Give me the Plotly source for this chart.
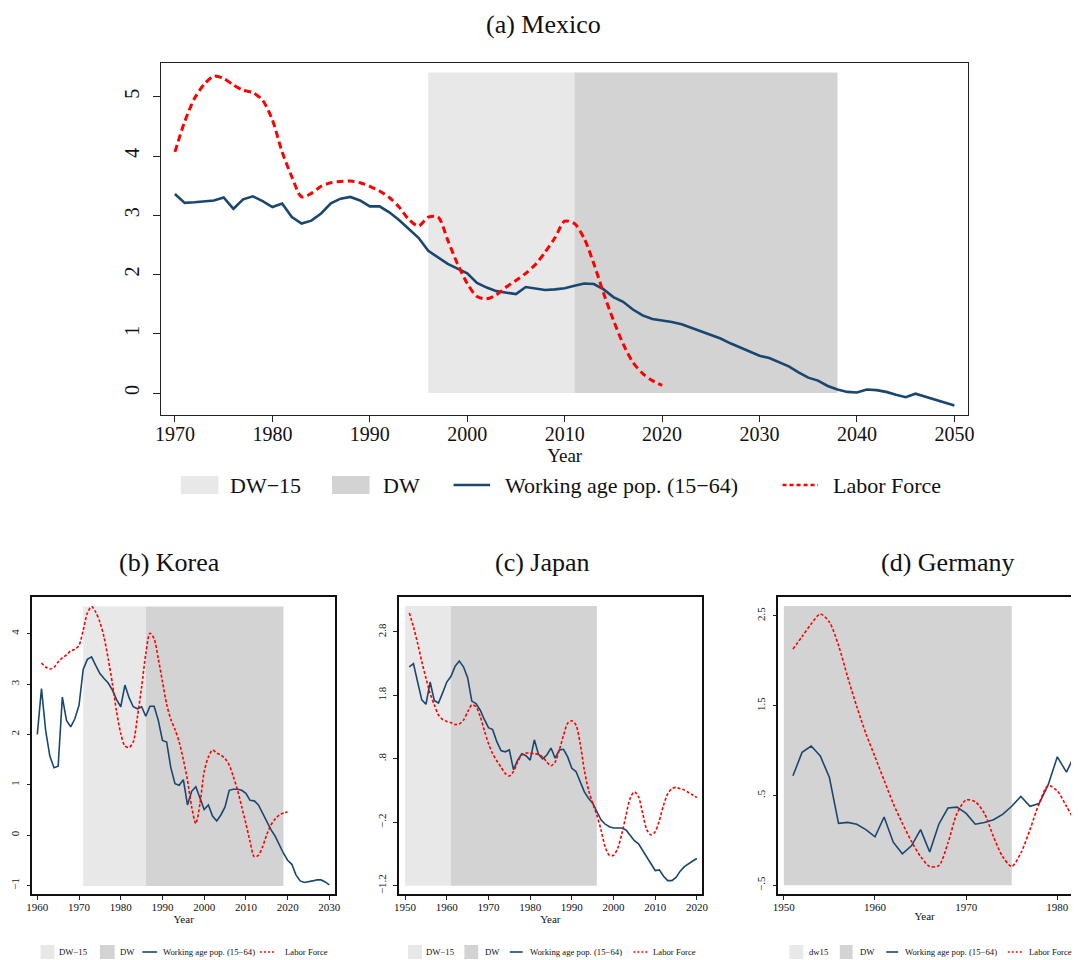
import plotly.graph_objects as go

W, H = 1078, 960

# ---------------- data ----------------
# (a) Mexico
mx_years = list(range(1970, 2051))
mx_wap = [3.36, 3.21, 3.22, 3.23, 3.25, 3.30, 3.11, 3.27, 3.32, 3.24,
          3.14, 3.20, 2.97, 2.86, 2.91, 3.03, 3.20, 3.28, 3.31, 3.25,
          3.15, 3.15, 3.05, 2.92, 2.77, 2.62, 2.40, 2.29, 2.18, 2.10,
          2.02, 1.86, 1.78, 1.72, 1.69, 1.67, 1.79, 1.76, 1.74, 1.75,
          1.77, 1.81, 1.85, 1.84, 1.75, 1.62, 1.54, 1.41, 1.31, 1.25,
          1.23, 1.20, 1.16, 1.10, 1.04, 0.97, 0.92, 0.84, 0.77, 0.69,
          0.63, 0.59, 0.52, 0.45, 0.35, 0.26, 0.21, 0.12, 0.06, 0.02,
          0.01, 0.06, 0.05, 0.02, -0.03, -0.07, -0.01, -0.06, -0.11, -0.15,
          -0.21]
mx_lf_years = list(range(1970, 2021))
mx_lf = [4.07, 4.58, 4.97, 5.21, 5.35, 5.31, 5.20, 5.11, 5.07, 4.94,
         4.61, 4.07, 3.65, 3.31, 3.37, 3.49, 3.55, 3.57, 3.58, 3.55,
         3.49, 3.41, 3.30, 3.14, 2.93, 2.82, 2.97, 2.97, 2.58, 2.18,
         1.85, 1.63, 1.59, 1.66, 1.79, 1.90, 2.02, 2.17, 2.38, 2.62,
         2.90, 2.86, 2.61, 2.18, 1.68, 1.23, 0.83, 0.52, 0.33, 0.21,
         0.13]
mx_dw15 = (1996, 2011)
mx_dw = (2011, 2038)
mx_band = (0.0, 5.41)

# (b) Korea
kr_years = list(range(1960, 2031))
kr_wap = [2.00, 2.91, 2.08, 1.57, 1.34, 1.37, 2.74, 2.28, 2.15, 2.31,
          2.58, 3.29, 3.49, 3.54, 3.37, 3.21, 3.11, 3.02, 2.88, 2.69,
          2.55, 2.98, 2.73, 2.55, 2.51, 2.55, 2.36, 2.56, 2.56, 2.28,
          1.88, 1.85, 1.34, 1.02, 0.99, 1.10, 0.60, 0.87, 0.96, 0.73,
          0.51, 0.60, 0.38, 0.28, 0.40, 0.56, 0.89, 0.91, 0.91, 0.89,
          0.83, 0.69, 0.68, 0.60, 0.43, 0.28, 0.11, -0.02, -0.20, -0.36,
          -0.50, -0.58, -0.79, -0.91, -0.94, -0.93, -0.91, -0.89, -0.89, -0.93,
          -0.99]
kr_lf_years = list(range(1961, 2021))
kr_lf = [3.42, 3.34, 3.30, 3.33, 3.44, 3.52, 3.58, 3.66, 3.69,
         3.77, 4.07, 4.41, 4.54, 4.43, 4.23, 3.93, 3.50, 3.01, 2.45,
         2.02, 1.77, 1.74, 1.85, 2.35, 2.94, 3.60, 4.01, 3.90, 3.50,
         3.05, 2.60, 2.30, 2.10, 1.85, 1.50, 1.09, 0.56, 0.23, 0.63,
         1.26, 1.55, 1.69, 1.63, 1.59, 1.52, 1.39, 1.16, 0.89, 0.56,
         0.23, -0.13, -0.43, -0.40, -0.23, 0.01, 0.20, 0.32, 0.40, 0.44,
         0.46]
kr_dw15 = (1971, 1986)
kr_dw = (1986, 2019)
kr_band = (-1.01, 4.54)

# (c) Japan
jp_years = list(range(1951, 2021))
jp_wap = [2.25, 2.30, 2.01, 1.73, 1.66, 2.01, 1.72, 1.68, 1.84,
          2.01, 2.10, 2.26, 2.34, 2.25, 2.08, 1.71, 1.67, 1.57, 1.42,
          1.29, 1.26, 1.07, 0.93, 0.91, 0.94, 0.63, 0.78, 0.88, 0.85,
          0.78, 1.10, 0.87, 0.80, 0.86, 0.97, 0.81, 0.94, 0.95, 0.83,
          0.65, 0.60, 0.44, 0.28, 0.18, 0.10, -0.03, -0.16, -0.23, -0.27,
          -0.29, -0.29, -0.29, -0.32, -0.41, -0.49, -0.54, -0.64, -0.74, -0.85,
          -0.96, -0.95, -1.05, -1.12, -1.12, -1.07, -0.97, -0.90, -0.85, -0.81,
          -0.77]
jp_lf = [3.10, 2.88, 2.62, 2.33, 2.07, 1.83, 1.65, 1.49, 1.42,
         1.39, 1.37, 1.34, 1.35, 1.41, 1.54, 1.65, 1.62, 1.47, 1.25,
         1.04, 0.88, 0.77, 0.67, 0.57, 0.53, 0.60, 0.75, 0.86, 0.89,
         0.89, 0.88, 0.87, 0.83, 0.75, 0.69, 0.75, 0.94, 1.17, 1.36,
         1.40, 1.33, 1.04, 0.62, 0.31, 0.10, -0.09, -0.32, -0.59, -0.72,
         -0.72, -0.61, -0.38, -0.09, 0.18, 0.28, 0.20, -0.06, -0.32, -0.40,
         -0.35, -0.17, 0.07, 0.25, 0.33, 0.35, 0.33, 0.31, 0.27, 0.23,
         0.19]
jp_dw15 = (1950, 1961)
jp_dw = (1961, 1996)
jp_band = (-1.2, 3.21)
jp_ticks = [-1.2, -0.2, 0.8, 1.8, 2.8]
jp_ticktext = ["\u22121.2", "\u2212.2", ".8", "1.8", "2.8"]

# (d) Germany
de_years = list(range(1951, 1983))
de_wap = [0.72, 0.98, 1.05, 0.94, 0.70, 0.19, 0.20, 0.18, 0.12,
          0.04, 0.26, -0.02, -0.15, -0.06, 0.12, -0.13, 0.18, 0.36, 0.37,
          0.30, 0.18, 0.20, 0.23, 0.29, 0.38, 0.49, 0.38, 0.41, 0.62,
          0.93, 0.76, 0.97]
de_lf = [2.13, 2.27, 2.41, 2.52, 2.43, 2.17, 1.82, 1.49, 1.19,
         0.93, 0.67, 0.41, 0.19, -0.01, -0.18, -0.29, -0.28, -0.03, 0.30,
         0.45, 0.43, 0.30, 0.04, -0.18, -0.29, -0.14, 0.12, 0.41, 0.61,
         0.55, 0.38, 0.20]
de_dw = (1950, 1975)
de_band = (-0.5, 2.61)
de_ticks = [-0.5, 0.5, 1.5, 2.5]
de_ticktext = ["\u2212.5", ".5", "1.5", "2.5"]

# ---------------- styling ----------------
NAVY = "#1a476f"
RED = "#ff0000"
SHADE_LIGHT = "#e8e8e8"
SHADE_DARK = "#d3d3d3"
SERIF = "Liberation Serif, Times New Roman, serif"


def xp(px):
    return px / W


def yp(py):
    return 1 - py / H


fig = go.Figure()


def band(span, lo_hi, color, ax):
    x0, x1 = span
    lo, hi = lo_hi
    fig.add_trace(go.Scatter(
        x=[x0, x1, x1, x0, x0], y=[lo, lo, hi, hi, lo],
        fill="toself", fillcolor=color, mode="lines", line=dict(width=0),
        hoverinfo="skip", showlegend=False, xaxis="x" + ax, yaxis="y" + ax))


def series(x, y, ax, big):
    fig.add_trace(go.Scatter(
        x=x, y=y, mode="lines",
        line=dict(color=NAVY, width=2.6 if big else 1.6),
        showlegend=False, xaxis="x" + ax, yaxis="y" + ax))


def lf(x, y, ax, big):
    fig.add_trace(go.Scatter(
        x=x, y=y, mode="lines", line_shape="spline",
        line=dict(color=RED, width=3 if big else 1.6,
                  dash="7px,4px" if big else "3px,2px", smoothing=0.8),
        showlegend=False, xaxis="x" + ax, yaxis="y" + ax))


# Mexico (axis "")
band(mx_dw15, mx_band, SHADE_LIGHT, "")
band(mx_dw, mx_band, SHADE_DARK, "")
series(mx_years, mx_wap, "", True)
lf(mx_lf_years, mx_lf, "", True)

# Korea (axis 2)
band(kr_dw15, kr_band, SHADE_LIGHT, "2")
band(kr_dw, kr_band, SHADE_DARK, "2")
series(kr_years, kr_wap, "2", False)
lf(kr_lf_years, kr_lf, "2", False)

# Japan (axis 3)
band(jp_dw15, jp_band, SHADE_LIGHT, "3")
band(jp_dw, jp_band, SHADE_DARK, "3")
series(jp_years, jp_wap, "3", False)
lf(jp_years, jp_lf, "3", False)

# Germany (axis 4)
band(de_dw, de_band, SHADE_DARK, "4")
series(de_years, de_wap, "4", False)
lf(de_years, de_lf, "4", False)


def xaxis(dom, rng, dtick, big, mirror=True):
    return dict(
        domain=[xp(dom[0]), xp(dom[1])], range=rng, dtick=dtick, tick0=1950,
        showgrid=False, zeroline=False, showline=True, mirror=mirror,
        linecolor="#222" if big else "#111", linewidth=1.4 if big else 1.5,
        ticks="outside", ticklen=6 if big else 4, tickwidth=1.2, tickcolor="#222",
        ticklabelstandoff=-5 if big else -2,
        tickfont=dict(family=SERIF, size=20 if big else 11, color="#111"),
        title=dict(text="Year", standoff=0,
                   font=dict(family=SERIF, size=19 if big else 11, color="#111")),
        fixedrange=True)


def yaxis(dom, rng, big, tickvals=None, ticktext=None, dtick=1, mirror=True):
    d = dict(
        domain=[yp(dom[1]), yp(dom[0])], range=rng,
        showgrid=False, zeroline=False, showline=True, mirror=mirror,
        linecolor="#222" if big else "#111", linewidth=1.4 if big else 1.5,
        ticks="outside", ticklen=7 if big else 4, tickwidth=1.2, tickcolor="#222",
        tickangle=-90, ticklabelstandoff=6 if big else 3,
        tickfont=dict(family=SERIF, size=20 if big else 11, color="#111"),
        fixedrange=True)
    if tickvals is not None:
        d.update(tickmode="array", tickvals=tickvals, ticktext=ticktext)
    else:
        d.update(dtick=dtick, tick0=0)
    return d


fig.update_layout(
    width=W, height=H, margin=dict(l=0, r=0, t=0, b=0),
    paper_bgcolor="white", plot_bgcolor="white", showlegend=False,
    xaxis=xaxis((157, 974), [1968.58, 2051.42], 10, True),
    yaxis=yaxis((63, 415), [-0.37, 5.57], True),
    xaxis2=dict(xaxis((26.7, 333), [1958.82, 2031.35], 10, False), anchor="y2"),
    yaxis2=dict(yaxis((597, 894), [-1.17, 4.73], False), anchor="x2"),
    xaxis3=dict(xaxis((398, 704), [1948.58, 2021.11], 10, False), anchor="y3"),
    yaxis3=dict(yaxis((597, 894), [-1.33, 3.35], False, jp_ticks, jp_ticktext), anchor="x3"),
    xaxis4=dict(xaxis((781.7, 1078), [1949.39, 1981.5], 10, False), anchor="y4"),
    yaxis4=dict(yaxis((597, 894), [-0.597, 2.71], False, de_ticks, de_ticktext,
                      mirror=False), anchor="x4"),
)

# panel titles
for text, cx, cy in [("(a) Mexico", 544, 24), ("(b) Korea", 165, 562),
                     ("(c) Japan", 543, 562), ("(d) Germany", 953, 562)]:
    fig.add_annotation(text=text, x=xp(cx), y=yp(cy), xref="paper", yref="paper",
                       showarrow=False, xanchor="center", yanchor="middle",
                       font=dict(family=SERIF, size=26, color="#111"))


# legends
def legend(cy, boxes, size, labels, boxh, line_w, dash):
    (b1, b2, ln, rd) = boxes
    for (x0, x1), col in [(b1, SHADE_LIGHT), (b2, SHADE_DARK)]:
        fig.add_shape(type="rect", xref="paper", yref="paper",
                      x0=xp(x0), x1=xp(x1), y0=yp(cy - boxh / 2), y1=yp(cy + boxh / 2),
                      fillcolor=col, line=dict(width=0), layer="above")
    fig.add_shape(type="line", xref="paper", yref="paper",
                  x0=xp(ln[0]), x1=xp(ln[1]), y0=yp(cy), y1=yp(cy),
                  line=dict(color=NAVY, width=line_w))
    fig.add_shape(type="line", xref="paper", yref="paper",
                  x0=xp(rd[0]), x1=xp(rd[1]), y0=yp(cy), y1=yp(cy),
                  line=dict(color=RED, width=line_w, dash=dash))
    for text, lx in labels:
        fig.add_annotation(text=text, x=xp(lx), y=yp(cy), xref="paper", yref="paper",
                           showarrow=False, xanchor="left", yanchor="middle",
                           font=dict(family=SERIF, size=size, color="#111"))


legend(485, ((177, 215), (330, 368), (453, 490), (786, 822)), 22,
       [("DW\u221215", 225), ("DW", 380), ("Working age pop. (15\u221264)", 503),
        ("Labor Force", 835)], 18, 2.4, "4px,3px")
legend(952, ((35, 49), (95, 110), (138, 153), (257, 273)), 8.7,
       [("DW\u221215", 52), ("DW", 113), ("Working age pop. (15\u221264)", 157),
        ("Labor Force", 280)], 14, 1.6, "2px,2px")
legend(952, ((407, 421), (464, 478), (510, 523), (635, 650)), 8.7,
       [("DW\u221215", 423), ("DW", 483), ("Working age pop. (15\u221264)", 528),
        ("Labor Force", 653)], 14, 1.6, "2px,2px")
legend(952, ((793, 807), (844, 857), (891, 903), (1014, 1030)), 8.7,
       [("dw15", 811), ("DW", 862), ("Working age pop. (15\u221264)", 908),
        ("Labor Force", 1033)], 14, 1.6, "2px,2px")

fig.write_html("out.html")
